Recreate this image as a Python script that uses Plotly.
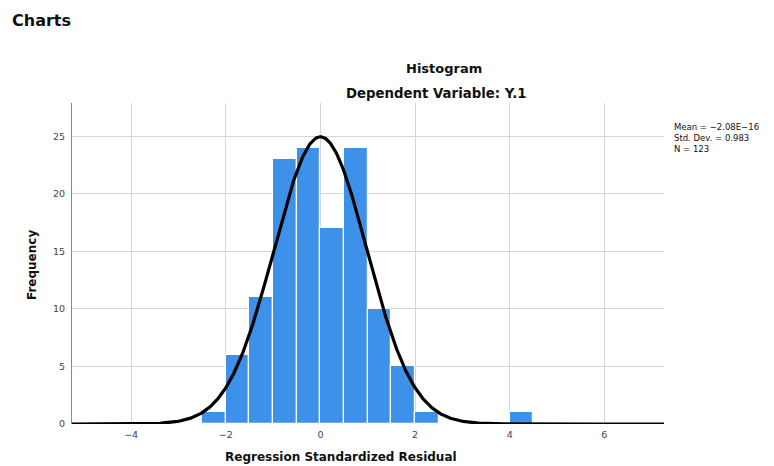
import numpy as np
import plotly.graph_objects as go

bin_starts = [-2.5, -2.0, -1.5, -1.0, -0.5, 0.0, 0.5, 1.0, 1.5, 2.0, 4.0]
counts = [1, 6, 11, 23, 24, 17, 24, 10, 5, 1, 1]
bin_width = 0.5
mean_val = -2.08e-16
std_val = 0.983
n_val = 123
x_ticks = [-4, -2, 0, 2, 4, 6]
x_tick_text = ["\u22124", "\u22122", "0", "2", "4", "6"]
y_ticks = [0, 5, 10, 15, 20, 25]

x_range = [-5.25, 7.26]
y_range = [0, 27.9]

centers = [s + bin_width / 2 for s in bin_starts]

xs = np.linspace(x_range[0], x_range[1], 600)
ys = n_val * bin_width / (std_val * np.sqrt(2 * np.pi)) * np.exp(-0.5 * ((xs - mean_val) / std_val) ** 2)

OFF = 8  # page body margin offset
W, H = 774, 466
# target plot area in screenshot coords: left 72, right 664, top 103, bottom 424
ML = 72 - OFF
MT = 103 - OFF
MR = W - (664 - OFF)
MB = H - (424 - OFF)
PW, PH = W - ML - MR, H - MT - MB


def px(xp):
    return (xp - OFF - ML) / PW


def py(yp):
    return (H - MB - (yp - OFF)) / PH


FONT = "'DejaVu Sans', Verdana, sans-serif"

fig = go.Figure()
fig.add_trace(go.Bar(
    x=centers, y=counts, width=bin_width,
    marker=dict(color="#3d91e8", line=dict(color="white", width=1.2)),
    showlegend=False, hoverinfo="x+y"))
fig.add_trace(go.Scatter(
    x=xs, y=ys, mode="lines", line=dict(color="black", width=3.2),
    showlegend=False, hoverinfo="skip", cliponaxis=False))


def ann(text, x, y, size, **kw):
    d = dict(text=text, x=px(x), y=py(y), xref="paper", yref="paper",
             xanchor="center", yanchor="middle", showarrow=False,
             font=dict(size=size, color="#111", family=FONT))
    d.update(kw)
    return d


fig.update_layout(
    width=W, height=H,
    margin=dict(l=ML, r=MR, t=MT, b=MB),
    paper_bgcolor="white", plot_bgcolor="white",
    bargap=0,
    font=dict(family=FONT, color="#333"),
    xaxis=dict(range=x_range, tickvals=x_ticks, ticktext=x_tick_text,
               showgrid=True, gridcolor="#d6d6d6", gridwidth=1,
               zeroline=False, showline=False, ticks="",
               tickfont=dict(size=9.5, color="#444"), ticklabelstandoff=3),
    yaxis=dict(range=y_range, tickvals=y_ticks,
               showgrid=True, gridcolor="#d6d6d6", gridwidth=1,
               zeroline=False, showline=True, linecolor="#888", linewidth=1,
               ticks="", tickfont=dict(size=9.5, color="#444"),
               ticklabelstandoff=4),
    annotations=[
        ann("<b>Charts</b>", 10, 20, 16, xanchor="left"),
        ann("<b>Histogram</b>", 444, 69, 13),
        ann("<b>Dependent Variable: Y.1</b>", 436, 93, 13.3),
        ann("Mean = \u22122.08E\u221216<br>Std. Dev. = 0.983<br>N = 123",
            672, 120, 8.5, xanchor="left", yanchor="top", align="left"),
        ann("<b>Frequency</b>", 32, 265, 12, textangle=-90),
        ann("<b>Regression Standardized Residual</b>", 341, 457, 12),
    ],
)

fig.write_html("out.html")
